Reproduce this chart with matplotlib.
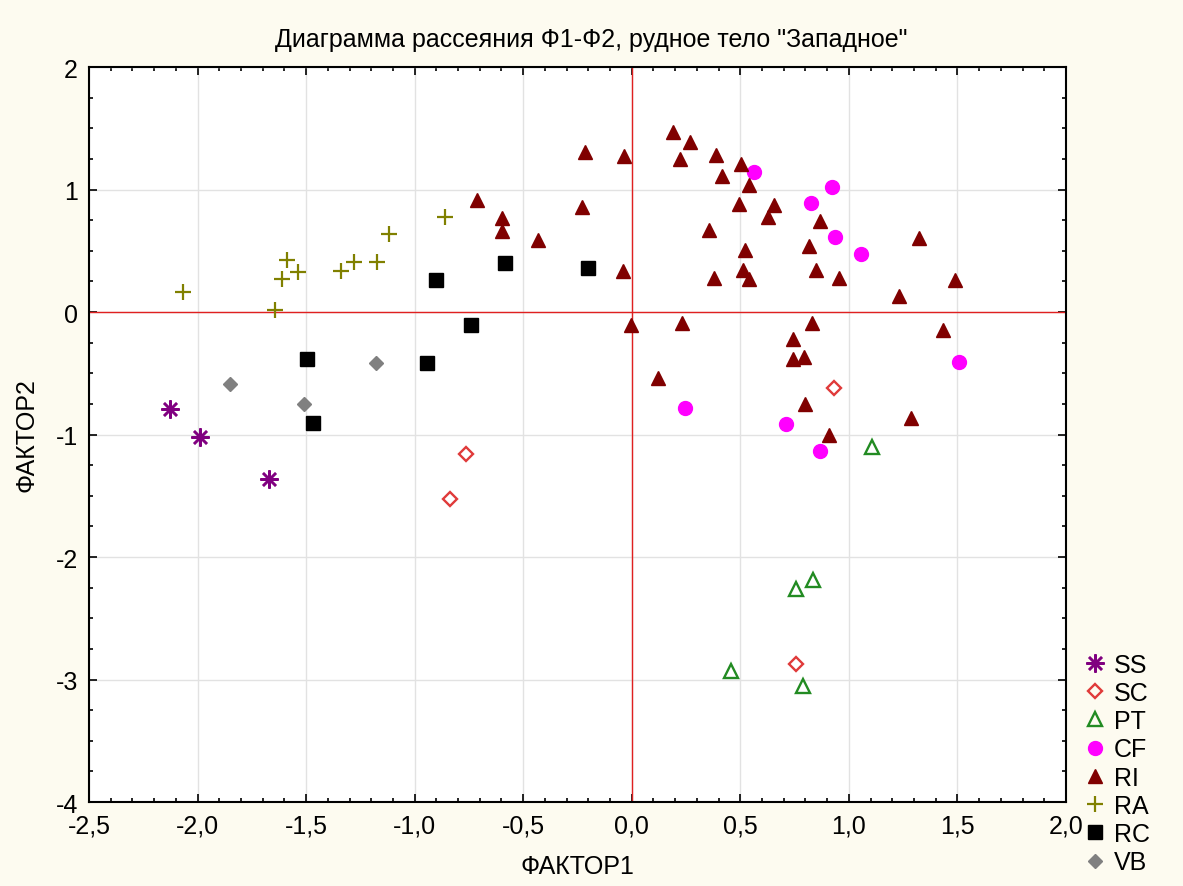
import matplotlib
matplotlib.use("Agg")
import matplotlib.pyplot as plt
from matplotlib.ticker import MultipleLocator, FuncFormatter

plt.rcParams['font.family'] = ['Liberation Sans', 'DejaVu Sans']

# Factor scores by rock group
ss_x = [-2.126, -1.989, -1.671]
ss_y = [-0.788, -1.019, -1.364]

sc_x = [-0.763, -0.837, 0.933, 0.758]
sc_y = [-1.160, -1.527, -0.617, -2.870]

pt_x = [1.108, 0.757, 0.836, 0.459, 0.787]
pt_y = [-1.104, -2.258, -2.190, -2.927, -3.057]

cf_x = [0.562, 0.921, 0.826, 0.937, 1.055, 1.509, 0.245, 0.709, 0.867]
cf_y = [1.143, 1.023, 0.893, 0.612, 0.471, -0.412, -0.781, -0.918, -1.131]

ri_x = [-0.711, -0.599, -0.597, -0.433, -0.215, -0.229, -0.035, -0.042, -0.005,
        0.188, 0.269, 0.224, 0.231, 0.387, 0.415, 0.504, 0.539, 0.493, 0.657,
        0.629, 0.354, 0.377, 0.523, 0.511, 0.539, 0.868, 0.815, 0.850, 0.956,
        0.831, 0.743, 0.741, 0.794, 1.322, 1.229, 1.488, 1.433, 0.120, 0.800,
        0.907, 1.284]
ri_y = [0.918, 0.770, 0.661, 0.588, 1.309, 0.860, 1.273, 0.337, -0.106,
        1.472, 1.388, 1.252, -0.093, 1.282, 1.110, 1.211, 1.037, 0.884, 0.876,
        0.778, 0.669, 0.280, 0.506, 0.340, 0.272, 0.740, 0.539, 0.340, 0.278,
        -0.093, -0.218, -0.384, -0.365, 0.604, 0.131, 0.261, -0.150, -0.540, -0.751,
        -1.003, -0.869]

ra_x = [-2.067, -1.645, -1.611, -1.590, -1.539, -1.337, -1.280, -1.175, -1.119, -0.862]
ra_y = [0.166, 0.016, 0.266, 0.424, 0.326, 0.334, 0.408, 0.408, 0.633, 0.775]

rc_x = [-1.498, -1.467, -0.942, -0.900, -0.741, -0.585, -0.203]
rc_y = [-0.380, -0.905, -0.413, 0.259, -0.103, 0.397, 0.362]

vb_x = [-1.851, -1.508, -1.178]
vb_y = [-0.584, -0.753, -0.413]

bg = '#fdfbf0'
fig = plt.figure(figsize=(11.83, 8.87), dpi=100, facecolor=bg)
ax = fig.add_axes([0.0752, 0.0947, 0.8259, 0.8286])
ax.set_facecolor('white')
ax.set_axisbelow(True)

ax.set_xlim(-2.5, 2.0)
ax.set_ylim(-4, 2)
ax.xaxis.set_major_locator(MultipleLocator(0.5))
ax.xaxis.set_minor_locator(MultipleLocator(0.1))
ax.yaxis.set_major_locator(MultipleLocator(1))
ax.yaxis.set_minor_locator(MultipleLocator(0.25))
ax.xaxis.set_major_formatter(FuncFormatter(lambda v, p: f"{v:.1f}".replace('.', ',')))
ax.yaxis.set_major_formatter(FuncFormatter(lambda v, p: f"{v:.0f}"))

ax.grid(True, which='major', color='#e2e2e2', lw=1.0)
ax.axhline(0, color='#e02020', lw=1.0, zorder=2)
ax.axvline(0, color='#e02020', lw=1.0, zorder=2)

ax.tick_params(which='both', direction='in', top=True, right=True, labelsize=18,
               width=1.2, color='black')
ax.tick_params(which='major', length=6, pad=8)
ax.tick_params(which='minor', length=3)
for s in ax.spines.values():
    s.set_linewidth(1.5)
    s.set_zorder(4)

ax.plot(ss_x, ss_y, ls='none', marker=(8, 2, 0), ms=13, mec='#800080', mew=1.8,
        color='#800080', label='SS', zorder=3)
ax.plot(sc_x, sc_y, ls='none', marker='D', ms=7.5, mfc='none', mec='#e03a3a', mew=1.7,
        label='SC', zorder=3)
ax.plot(pt_x, pt_y, ls='none', marker='^', ms=9.5, mfc='none', mec='#228b22', mew=1.7,
        label='PT', zorder=3)
ax.plot(cf_x, cf_y, ls='none', marker='o', ms=10, mfc='#ff00ff', mec='#ff00ff',
        label='CF', zorder=3)
ax.plot(ri_x, ri_y, ls='none', marker='^', ms=9.5, mfc='#800000', mec='#800000',
        label='RI', zorder=3)
ax.plot(ra_x, ra_y, ls='none', marker='+', ms=12, mec='#808000', mew=1.6,
        label='RA', zorder=3)
ax.plot(rc_x, rc_y, ls='none', marker='s', ms=9.5, mfc='black', mec='black',
        label='RC', zorder=3)
ax.plot(vb_x, vb_y, ls='none', marker='D', ms=7.5, mfc='#808080', mec='#808080',
        label='VB', zorder=3)

ax.set_xlabel('ФАКТОР1', fontsize=18, labelpad=12)
ax.set_ylabel('ФАКТОР2', fontsize=18, labelpad=12)
fig.text(0.5, 0.955, 'Диаграмма рассеяния Ф1-Ф2, рудное тело "Западное"',
         ha='center', va='center', fontsize=18)

leg = ax.legend(loc='upper left', bbox_to_anchor=(0.916, 0.263),
                bbox_transform=fig.transFigure, frameon=False, fontsize=18,
                handletextpad=0.3, labelspacing=0.17, handlelength=0.9,
                borderaxespad=0, borderpad=0)

fig.savefig('out.png', dpi=100, facecolor=bg)
